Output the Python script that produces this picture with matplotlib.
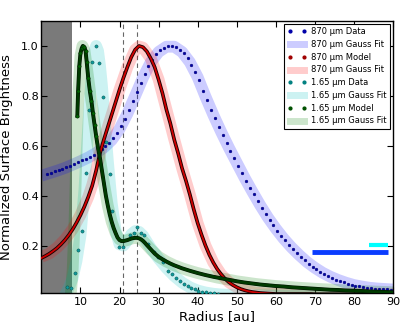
import numpy as np
import matplotlib
matplotlib.use("Agg")
import matplotlib.pyplot as plt
import matplotlib.patheffects as pe
from matplotlib.lines import Line2D

plt.rcParams['font.family'] = ['DejaVu Sans']
plt.rcParams['xtick.direction'] = 'in'
plt.rcParams['ytick.direction'] = 'in'
plt.rcParams['xtick.top'] = True
plt.rcParams['ytick.right'] = True

# ---- 870 um data (radius grid in au) ----
r_870 = np.arange(1.4, 90.0, 1.0)
sb_870_data = [0.487, 0.492, 0.497, 0.502, 0.508, 0.514, 0.520, 0.527, 0.534, 0.541,
               0.548, 0.556, 0.565, 0.575, 0.586, 0.598, 0.613, 0.630, 0.652, 0.678,
               0.708, 0.742, 0.778, 0.815, 0.852, 0.887, 0.918, 0.945, 0.966, 0.982,
               0.993, 0.999, 1.000, 0.995, 0.985, 0.970, 0.950, 0.925, 0.895, 0.862,
               0.820, 0.782, 0.745, 0.710, 0.675, 0.643, 0.611, 0.580, 0.550, 0.520,
               0.490, 0.460, 0.432, 0.405, 0.378, 0.352, 0.327, 0.303, 0.281, 0.260,
               0.240, 0.221, 0.203, 0.186, 0.170, 0.155, 0.141, 0.128, 0.116, 0.105,
               0.095, 0.086, 0.078, 0.071, 0.064, 0.058, 0.053, 0.048, 0.044, 0.040,
               0.037, 0.034, 0.032, 0.030, 0.028, 0.027, 0.026, 0.025, 0.024]

# 870 um gauss fit
r_fit870 = np.arange(0, 91, 2)
sb_870_fit = [0.480, 0.490, 0.500, 0.511, 0.524, 0.538, 0.553, 0.571, 0.593, 0.623,
              0.667, 0.728, 0.800, 0.873, 0.935, 0.976, 0.997, 0.997, 0.976, 0.935,
              0.875, 0.797, 0.724, 0.656, 0.592, 0.532, 0.472, 0.416, 0.362, 0.312,
              0.268, 0.228, 0.193, 0.162, 0.134, 0.111, 0.091, 0.075, 0.062, 0.051,
              0.042, 0.036, 0.031, 0.028, 0.026, 0.024]

# 870 um model
r_mod870 = np.arange(0, 91, 1)
sb_870_model = [0.150, 0.158, 0.167, 0.178, 0.190, 0.205, 0.222, 0.242, 0.265, 0.292,
                0.322, 0.356, 0.395, 0.440, 0.500, 0.570, 0.625, 0.675, 0.725, 0.775,
                0.825, 0.872, 0.915, 0.955, 0.985, 1.000, 0.995, 0.978, 0.950, 0.915,
                0.865, 0.810, 0.745, 0.690, 0.625, 0.570, 0.510, 0.460, 0.405, 0.345,
                0.290, 0.243, 0.200, 0.163, 0.132, 0.106, 0.085, 0.067, 0.053, 0.042,
                0.033, 0.026, 0.021, 0.017, 0.014, 0.012, 0.010, 0.009, 0.008, 0.007,
                0.006, 0.006, 0.006, 0.006, 0.006, 0.006, 0.006, 0.006, 0.006, 0.006,
                0.005, 0.005, 0.005, 0.005, 0.005, 0.005, 0.005, 0.005, 0.005, 0.005,
                0.005, 0.005, 0.005, 0.005, 0.005, 0.005, 0.005, 0.005, 0.005, 0.005,
                0.005]

# 870 um gauss fit of model
r_mfit870 = [0, 2, 4, 6, 8, 10, 12, 13, 14, 15, 16, 18, 20, 22, 24, 25, 26, 28, 30,
             32, 34, 36, 38, 40, 42, 44, 46, 48, 50, 52, 54, 56, 58, 60, 70, 80, 90]
sb_870_mfit = [0.155, 0.168, 0.192, 0.224, 0.266, 0.323, 0.395, 0.442, 0.500, 0.568,
               0.625, 0.725, 0.825, 0.915, 0.985, 0.998, 0.993, 0.950, 0.866, 0.746,
               0.626, 0.511, 0.405, 0.290, 0.200, 0.132, 0.085, 0.053, 0.033, 0.021,
               0.014, 0.010, 0.008, 0.006, 0.005, 0.005, 0.005]

# ---- 1.65 um data ----
r_165 = [6.6, 7.6, 8.5, 9.4, 10.3, 11.3, 12.3, 13.0, 14.0, 14.8, 15.7, 16.6, 17.5,
         18.1, 19.9, 21.0, 22.7, 23.7, 24.4, 25.4, 26.3, 27.3, 28.8, 29.9, 31.2,
         32.5, 33.5, 34.5, 35.5, 36.4, 37.4, 38.3, 39.2, 40.2, 41.2, 42.2, 43.2,
         44.2, 45.2]
sb_165_data = [0.036, 0.031, 0.089, 0.183, 0.260, 0.490, 0.745, 0.936, 1.000, 0.932,
               0.796, 0.616, 0.488, 0.340, 0.193, 0.196, 0.243, 0.252, 0.276, 0.251,
               0.243, 0.207, 0.173, 0.153, 0.133, 0.100, 0.085, 0.072, 0.058, 0.048,
               0.038, 0.032, 0.025, 0.020, 0.016, 0.013, 0.011, 0.009, 0.008]

r_fit165 = [6.0, 7.0, 8.0, 9.0, 10.0, 11.0, 12.0, 12.5, 13.0, 13.5, 14.0, 14.5, 15.0,
            15.5, 16.0, 17.0, 18.0, 19.0, 20.0, 21.0, 22.0, 23.0, 24.0, 25.0, 26.0,
            27.0, 28.0, 30.0, 32.0, 34.0, 36.0, 38.0, 40.0, 42.0, 44.0, 46.0, 50.0,
            60.0, 70.0, 80.0, 90.0]
sb_165_fit = [0.0, 0.03, 0.07, 0.14, 0.24, 0.42, 0.68, 0.80, 0.90, 0.97, 1.00, 0.98,
              0.92, 0.84, 0.74, 0.54, 0.37, 0.26, 0.205, 0.20, 0.22, 0.245, 0.258,
              0.255, 0.24, 0.215, 0.19, 0.148, 0.11, 0.078, 0.052, 0.033, 0.02, 0.012,
              0.007, 0.004, 0.002, 0.0, 0.0, 0.0, 0.0]

# 1.65 um model
r_mod165 = [9.2, 9.4, 9.7, 10.0, 10.3, 10.6, 11.0, 11.3, 11.6, 12.0, 12.4, 12.8, 13.2,
            13.6, 14.0, 14.5, 15.0, 15.5, 16.0, 16.5, 17.0, 17.5, 18.0, 18.5, 19.0,
            19.5, 20.0, 20.5, 21.0, 21.5, 22.0, 22.5, 23.0, 23.5, 24.0, 24.5, 25.0,
            25.5, 26.0, 26.5, 27.0, 28, 29, 30, 31, 32, 33, 34, 35, 36, 38, 40, 42,
            44, 46, 48, 50, 52, 54, 56, 58, 60, 62, 64, 66, 68, 70, 72, 74, 76, 78,
            80, 82, 84, 86, 88, 90]
sb_165_model = [0.72, 0.82, 0.92, 0.97, 0.99, 1.0, 0.995, 0.98, 0.935, 0.87, 0.82,
                0.78, 0.73, 0.685, 0.64, 0.59, 0.55, 0.50, 0.45, 0.40, 0.36, 0.325,
                0.295, 0.27, 0.25, 0.232, 0.222, 0.218, 0.218, 0.22, 0.222, 0.225,
                0.228, 0.23, 0.231, 0.231, 0.229, 0.225, 0.219, 0.211, 0.202, 0.185,
                0.168, 0.155, 0.145, 0.136, 0.128, 0.121, 0.115, 0.109, 0.099, 0.090,
                0.082, 0.075, 0.069, 0.063, 0.057, 0.052, 0.048, 0.044, 0.041, 0.038,
                0.036, 0.033, 0.031, 0.029, 0.027, 0.025, 0.023, 0.022, 0.020, 0.019,
                0.018, 0.016, 0.015, 0.014, 0.013]

r_mfit165 = [7.5, 8.0, 8.5, 9.0, 9.5, 10.0, 10.5, 11.0, 11.5, 12.0, 12.5, 13, 13.5,
             14, 15, 16, 17, 18, 19, 20, 21, 22, 23, 24, 25, 26, 27, 28, 30, 32, 34,
             36, 38, 40, 45, 50, 55, 60, 65, 70, 75, 80, 85, 90]
sb_165_mfit = [0.0, 0.10, 0.30, 0.58, 0.82, 0.96, 1.0, 0.985, 0.93, 0.87, 0.81, 0.76,
               0.70, 0.645, 0.545, 0.45, 0.36, 0.295, 0.25, 0.225, 0.218, 0.222,
               0.228, 0.231, 0.229, 0.219, 0.202, 0.185, 0.155, 0.136, 0.121, 0.109,
               0.099, 0.090, 0.072, 0.057, 0.046, 0.038, 0.032, 0.027, 0.023, 0.019,
               0.016, 0.013]

# beam sizes
beam870_x = [69.3, 88.6]
beam870_y = [0.174, 0.174]
beam165_x = [83.9, 88.6]
beam165_y = [0.203, 0.203]

gap_edge = 7.9
ring_lines = [20.8, 24.4]

fig = plt.figure(figsize=(4.07, 3.28), dpi=100)
ax = fig.add_axes([0.1017, 0.1067, 0.8639, 0.8293])

ax.axvspan(0, gap_edge, color='0.48', zorder=0, lw=0)
for xv in ring_lines:
    ax.axvline(xv, color='0.4', ls='--', lw=0.8, dashes=(4, 3), zorder=1)

band_lw = 8.5
ax.plot(r_fit870, sb_870_fit, color='blue', alpha=0.2, lw=band_lw, solid_capstyle='butt', zorder=2)
ax.plot(r_mfit870, sb_870_mfit, color='red', alpha=0.2, lw=band_lw, solid_capstyle='butt', zorder=2)
ax.plot(r_fit165, sb_165_fit, color='c', alpha=0.2, lw=band_lw, solid_capstyle='butt', zorder=2)
ax.plot(r_mfit165, sb_165_mfit, color='green', alpha=0.2, lw=band_lw, solid_capstyle='butt', zorder=2)

ax.plot(r_870, sb_870_data, ls='none', marker='o', ms=2.0, color='#0000a8', mec='#00006a', mew=0.3, zorder=4)
ax.plot(r_mod870, sb_870_model, color='#d00000', lw=1.3, zorder=5,
        path_effects=[pe.Stroke(linewidth=2.6, foreground='#1a0000'), pe.Normal()])
ax.plot(r_165, sb_165_data, ls='none', marker='o', ms=2.3, color='#109a9a', mec='#004848', mew=0.3, zorder=4)
ax.plot(r_mod165, sb_165_model, color='#003a00', lw=2.0, zorder=5,
        path_effects=[pe.Stroke(linewidth=2.8, foreground='#001200'), pe.Normal()])
ax.plot(r_mod165[:15], sb_165_model[:15], ls='none', marker='o', ms=2.4, color='#006400',
        mec='#002000', mew=0.3, zorder=6)

ax.plot(beam870_x, beam870_y, color='#0a3cff', lw=3.5, solid_capstyle='butt', zorder=6)
ax.plot(beam165_x, beam165_y, color='cyan', lw=3.0, solid_capstyle='butt', zorder=6)

ax.set_xlim(0, 90)
ax.set_ylim(0.01, 1.1)
ax.set_xticks([10, 20, 30, 40, 50, 60, 70, 80, 90])
ax.set_yticks([0.2, 0.4, 0.6, 0.8, 1.0])
ax.tick_params(labelsize=8, length=4, width=0.8, pad=3)
ax.tick_params(axis='y', pad=2)
for s in ax.spines.values():
    s.set_linewidth(1.0)

ax.set_xlabel('Radius [au]', fontsize=9.5, labelpad=2)
ax.set_ylabel('Normalized Surface Brightness', fontsize=9.5, labelpad=6)

handles = [
    Line2D([], [], ls='none', marker='o', ms=2.0, color='#0000a8'),
    Line2D([], [], color='blue', alpha=0.2, lw=5),
    Line2D([], [], ls='none', marker='o', ms=2.0, color='#a00000'),
    Line2D([], [], color='red', alpha=0.2, lw=5),
    Line2D([], [], ls='none', marker='o', ms=2.0, color='#008080'),
    Line2D([], [], color='c', alpha=0.2, lw=5),
    Line2D([], [], ls='none', marker='o', ms=2.0, color='#005000'),
    Line2D([], [], color='green', alpha=0.2, lw=5),
]
labels = ['870 μm Data', '870 μm Gauss Fit', '870 μm Model', '870 μm Gauss Fit',
          '1.65 μm Data', '1.65 μm Gauss Fit', '1.65 μm Model', '1.65 μm Gauss Fit']
leg = ax.legend(handles, labels, loc='upper right', fontsize=6, numpoints=2, handlelength=2.3,
                fancybox=False, framealpha=1, edgecolor='black', borderaxespad=0.35,
                labelspacing=0.45, handletextpad=0.6, borderpad=0.4)
leg.get_frame().set_linewidth(0.8)

fig.savefig('out.png', dpi=100)
